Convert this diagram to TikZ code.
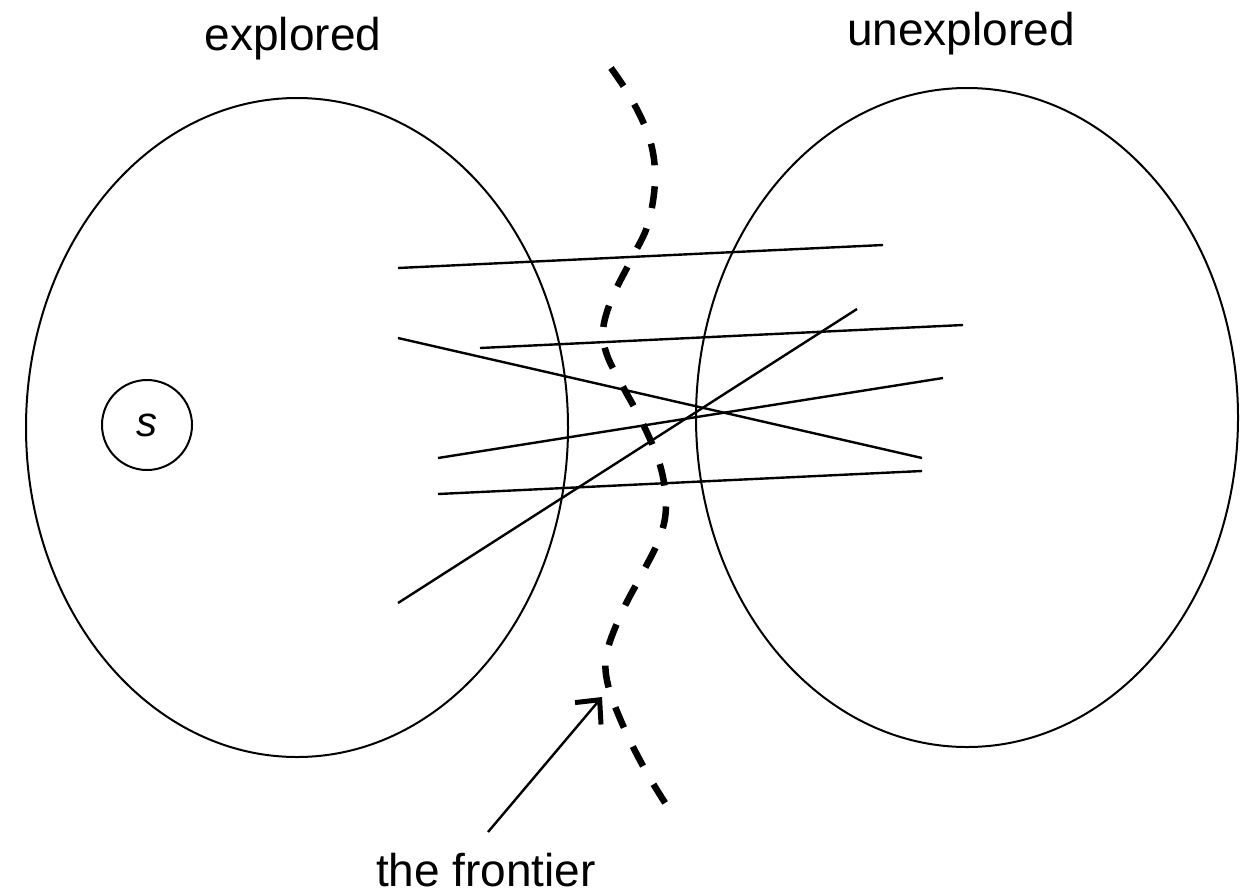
\documentclass[tikz,border=0pt]{standalone}
\usepackage{fontspec}
\setmainfont{Liberation Sans}
\usetikzlibrary{arrows.meta}
\begin{document}
\begin{tikzpicture}[x=1pt,y=-1pt,
  setline/.style={line width=2pt},
  edge/.style={line width=2.4pt},
  label/.style={font=\fontsize{46}{50}\selectfont, anchor=base, inner sep=0pt},
  frontier/.style={line width=6.5pt, dash pattern=on 22pt off 21pt, dash phase=0pt},
]
\useasboundingbox (0,0) rectangle (1252,895);
% sets
\draw[setline] (297,427.5) ellipse [x radius=271, y radius=329.5];
\draw[setline] (967,417.5) ellipse [x radius=271, y radius=329.5];
\node[circle, draw, line width=2pt, minimum size=90pt, inner sep=0pt,
      font=\fontsize{42}{44}\selectfont\itshape] (s) at (147,425) {s};
% edges crossing
\coordinate (a1) at (398,268); \coordinate (b1) at (883,245);
\coordinate (a2) at (480,348); \coordinate (b2) at (963,325);
\coordinate (a3) at (398,338); \coordinate (b3) at (922,458);
\coordinate (a4) at (438,458); \coordinate (b4) at (943,378);
\coordinate (a5) at (438,494); \coordinate (b5) at (922,471);
\coordinate (a6) at (398,603); \coordinate (b6) at (857,309);
\foreach \i in {1,...,6} \draw[edge] (a\i) -- (b\i);
% frontier
\draw[frontier] plot[smooth, tension=0.6] coordinates {
 (611,68) (632,100) (650,140) (655,180) (648,224) (632,258) (612,298)
 (603,330) (607,355) (622,385) (642,422) (660,465) (666,505) (660,537)
 (643,572) (623,610) (607,652) (608,685) (625,730) (648,775) (671,812)};
% labels
\node[label] (explored) at (293,50) {explored};
\node[label] (unexplored) at (961,45) {unexplored};
\node[label] (frontlabel) at (486,886) {the frontier};
\coordinate (tail) at (488,832);
\coordinate (tip) at (602,697);
\draw[line width=2.4pt, -{Straight Barb[length=18pt, width=34pt, line width=5pt]}] (tail) -- (tip);
\end{tikzpicture}
\end{document}
